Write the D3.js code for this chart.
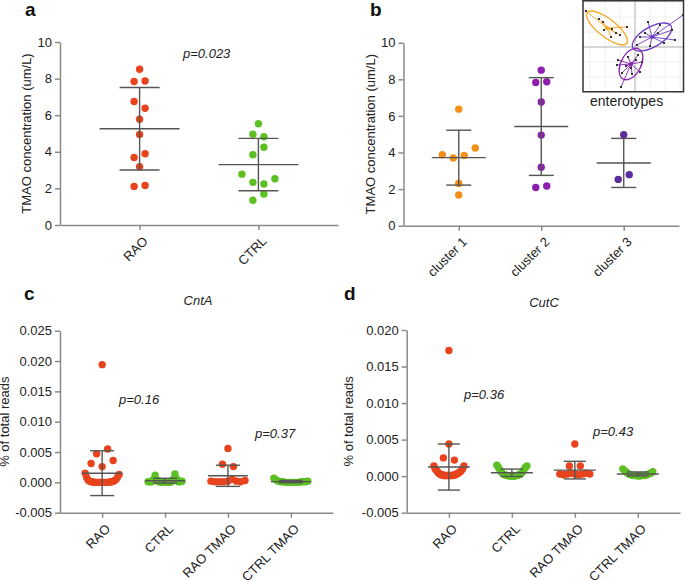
<!DOCTYPE html>
<html><head><meta charset="utf-8">
<script src="https://cdn.jsdelivr.net/npm/d3@7"></script>
<style>
body{margin:0;background:#fff}
svg text{font-family:"Liberation Sans",Arial,Helvetica,sans-serif}
</style>
</head><body>
<svg id="chart" width="685" height="580"></svg>
<script>
// ---------- DATA ----------
// panel a: plasma TMAO
const tmaoGroups = ["RAO", "CTRL"];
const tmaoRAO  = [8.51, 7.84, 7.87, 6.75, 6.38, 5.78, 4.95, 3.69, 3.89, 3.18, 2.11, 2.16];
const tmaoCTRL = [5.53, 4.96, 4.82, 3.84, 4.25, 2.78, 2.33, 2.24, 2.53, 1.35, 1.69];
const tmaoTicks = [0, 2, 4, 6, 8, 10];
const pTmao = "p=0.023";

// panel b: TMAO by enterotype cluster
const clusterNames = ["cluster 1", "cluster 2", "cluster 3"];
const cluster1 = [6.37, 3.88, 3.70, 3.84, 4.25, 2.31, 1.68];
const cluster2 = [8.50, 7.83, 7.87, 6.76, 4.95, 3.19, 2.09, 2.17];
const cluster3 = [4.97, 2.53, 2.79];

// panel b inset: enterotype ordination (arbitrary PC units)
const insetOrangeCenter = [-0.56, 0.38];
const insetOrange = [[-0.98,0.72],[-0.72,0.56],[-0.64,0.50],[-0.46,0.36],[-0.30,0.24],[-0.48,0.20],[-0.16,0.40],[-0.62,0.34],[-0.38,0.28]];
const insetBlueCenter = [0.34, 0.20];
const insetBlue = [[0.96,0.64],[0.74,0.34],[0.50,0.44],[0.26,0.50],[0.10,0.20],[0.04,0.04],[0.30,0.02],[0.58,0.08],[0.80,0.14],[0.46,0.28],[0.20,0.28]];
const insetPurpleCenter = [-0.08, -0.34];
const insetPurple = [[-0.34,-0.26],[-0.36,-0.36],[-0.14,-0.20],[0.06,-0.16],[0.14,-0.30],[0.10,-0.50],[-0.06,-0.54],[-0.26,-0.52],[-0.28,-0.80],[-0.08,-0.42],[-0.18,-0.38],[0.02,-0.26]];
// ellipse: [radius along major, radius along minor, angle deg]
const insetOrangeEllipse = [0.50, 0.18, -38];
const insetBlueEllipse = [0.44, 0.20, 30];
const insetPurpleEllipse = [0.34, 0.20, 62];

// panels c & d: gene abundance
const geneGroups = ["RAO", "CTRL", "RAO TMAO", "CTRL TMAO"];
const cntaRAO = [0.0015,0.0008,0.0004,0.0002,0.0001,0.0001,0,0,0,0,0,0,0,0,0,0,0,0.0001,0.0001,0.0002,0.0003,0.0005,0.0009,0.0013,
                 0.0047,0.0055,0.0031,0.0026,0.0036,0.0194];
const cntaCTRL = [0.0001,0.0001,0.0001,0.0005,0.0012,0.0004,0.0001,0,0,0,0,0,0,0.0001,0.0005,0.0014,0.0006,0.0001,0.0001,0.0002];
const cntaRAOTMAO = [0.0030,0.0026,0.0056,0.0002,0.0001,0.0001,0.0001,0.0002,0.0005,0.0002,0.0001,0.0003];
const cntaCTRLTMAO = [0.0007,0.0004,0.0002,0.0001,0.0001,0,0,0,0,0,0,0,0.0001,0.0001,0.0001,0.0002];
const cntaTicks = [-0.005, 0, 0.005, 0.010, 0.015, 0.020, 0.025];
const pCnta = ["p=0.16", "p=0.37"];

const cutcRAO = [0.0014,0.0010,0.0008,0.0006,0.0004,0.0003,0.0002,0.0002,0.0001,0.0001,0.0001,0.0001,0.0001,0.0001,0.0001,0.0001,0.0001,
                 0.0002,0.0002,0.0003,0.0004,0.0005,0.0006,0.0008,0.0010,0.0014,
                 0.0025,0.0022,0.0044,0.0172];
const cutcCTRL = [0.0015,0.0012,0.0008,0.0005,0.0003,0.0002,0.0001,0.0001,0,0,0,0,0.0001,0.0001,0.0002,0.0003,0.0005,0.0008,0.0012,0.0014];
const cutcRAOTMAO = [0.0014,0.0014,0.0044,0.0003,0.0002,0.0003,0.0004,0.0003,0.0002,0.0003,0.0004,0.0003];
const cutcCTRLTMAO = [0.0010,0.0007,0.0005,0.0003,0.0002,0.0001,0.0001,0.0001,0,0.0001,0.0001,0.0001,0.0002,0.0003,0.0004,0.0006];
const cutcTicks = [-0.005, 0, 0.005, 0.010, 0.015, 0.020];
const pCutc = ["p=0.36", "p=0.43"];

// ---------- STYLE ----------
const RED = "#e8431c", GREEN = "#5cc022", ORANGE = "#f39018", PURPLE = "#8c1fae", VIOLET = "#5c2c9e";
const AXIS = "#8a8a8a", BAR = "#555", TXT = "#222";

const svg = d3.select("#chart");

function layout(values, y, gapPx, spacing, maxSpan) {
  const items = values.map((v, i) => ({v, i, py: y(v), dx: 0}));
  const sorted = items.slice().sort((a, b) => a.py - b.py);
  const groups = [];
  let cur = [sorted[0]];
  for (let k = 1; k < sorted.length; k++) {
    if (sorted[k].py - sorted[k - 1].py < gapPx) cur.push(sorted[k]);
    else { groups.push(cur); cur = [sorted[k]]; }
  }
  groups.push(cur);
  groups.forEach(g => {
    g.sort((a, b) => a.i - b.i);
    const n = g.length;
    const s = n > 1 ? Math.min(spacing, maxSpan / (n - 1)) : 0;
    g.forEach((d, k) => d.dx = (k - (n - 1) / 2) * s);
  });
  return items;
}

function panel(o) {
  const g = svg.append("g");
  const x = d3.scalePoint().domain(o.cats).range([o.left, o.right]).padding(0.67);
  const y = d3.scaleLinear().domain(o.yDomain).range([o.bottom, o.top]);

  // axes
  const ya = g.append("g").attr("transform", `translate(${o.left},0)`)
    .call(d3.axisLeft(y).tickValues(o.ticks).tickFormat(o.fmt).tickSize(5).tickPadding(3).tickSizeOuter(0));
  const xa = g.append("g").attr("transform", `translate(0,${o.bottom})`)
    .call(d3.axisBottom(x).tickSize(5).tickSizeOuter(0).tickFormat(""));
  [ya, xa].forEach(a => {
    a.select(".domain").attr("stroke", AXIS).attr("stroke-width", 1.5);
    a.selectAll(".tick line").attr("stroke", AXIS).attr("stroke-width", 1.5);
    a.selectAll(".tick text").attr("fill", TXT).style("font-size", "13px");
  });
  g.selectAll("text.xl").data(o.cats).join("text").attr("class", "xl")
    .attr("transform", d => `translate(${x(d) + 9},${o.bottom + 17}) rotate(-45)`)
    .attr("text-anchor", "end").attr("fill", TXT).style("font-size", "13px").text(d => d);

  // y label
  g.append("text").attr("transform", `translate(${o.ylx},${(o.top + o.bottom) / 2}) rotate(-90)`)
    .attr("text-anchor", "middle").attr("fill", TXT).style("font-size", "13px").text(o.ylabel);

  // dots
  o.series.forEach((vals, k) => {
    const cx = x(o.cats[k]);
    const items = layout(vals, y, o.gap, 11, o.maxSpan);
    g.append("g").selectAll("circle").data(items).join("circle")
      .attr("cx", d => cx + d.dx).attr("cy", d => d.py).attr("r", 3.7)
      .attr("fill", o.colors[k]);
  });
  // mean +- SD
  o.series.forEach((vals, k) => {
    const cx = x(o.cats[k]);
    const m = d3.mean(vals), s = d3.deviation(vals);
    const eb = g.append("g").attr("stroke", BAR).attr("stroke-width", 1.4);
    eb.append("line").attr("x1", cx).attr("x2", cx).attr("y1", y(m - s)).attr("y2", y(m + s));
    eb.append("line").attr("x1", cx - o.cap).attr("x2", cx + o.cap).attr("y1", y(m + s)).attr("y2", y(m + s));
    eb.append("line").attr("x1", cx - o.cap).attr("x2", cx + o.cap).attr("y1", y(m - s)).attr("y2", y(m - s));
    eb.append("line").attr("x1", cx - o.meanW).attr("x2", cx + o.meanW).attr("y1", y(m)).attr("y2", y(m));
  });
  return {x, y, g};
}

const intFmt = d => d3.format("d")(d);
const decFmt = d => d.toFixed(3);

// panel a
panel({cats: tmaoGroups, series: [tmaoRAO, tmaoCTRL], colors: [RED, GREEN],
  yDomain: [0, 10], ticks: tmaoTicks, fmt: intFmt, left: 60, right: 338, top: 42, bottom: 225,
  gap: 8.5, maxSpan: 34, meanW: 40, cap: 20, ylabel: "TMAO concentration (um/L)", ylx: 31});
// panel b
panel({cats: clusterNames, series: [cluster1, cluster2, cluster3], colors: [ORANGE, PURPLE, VIOLET],
  yDomain: [0, 10], ticks: tmaoTicks, fmt: intFmt, left: 403.5, right: 679, top: 42.7, bottom: 225.7,
  gap: 8.5, maxSpan: 34, meanW: 27, cap: 12.5, ylabel: "TMAO concentration (um/L)", ylx: 375});
// panel c
panel({cats: geneGroups, series: [cntaRAO, cntaCTRL, cntaRAOTMAO, cntaCTRLTMAO], colors: [RED, GREEN, RED, GREEN],
  yDomain: [-0.005, 0.025], ticks: cntaTicks, fmt: decFmt, left: 60, right: 333, top: 330.7, bottom: 512.7,
  gap: 5.8, maxSpan: 34, meanW: 20, cap: 12, ylabel: "% of total reads", ylx: 9});
// panel d
panel({cats: geneGroups, series: [cutcRAO, cutcCTRL, cutcRAOTMAO, cutcCTRLTMAO], colors: [RED, GREEN, RED, GREEN],
  yDomain: [-0.005, 0.020], ticks: cutcTicks, fmt: decFmt, left: 406.7, right: 680, top: 330, bottom: 512.7,
  gap: 5, maxSpan: 30, meanW: 21, cap: 11, ylabel: "% of total reads", ylx: 353});

// panel letters and annotations
const letters = [["a", 25, 16], ["b", 370, 16], ["c", 24, 300], ["d", 344, 300]];
svg.selectAll("text.pl").data(letters).join("text").attr("class", "pl")
  .attr("x", d => d[1]).attr("y", d => d[2]).attr("fill", "#111")
  .style("font-size", "19px").style("font-weight", "bold").text(d => d[0]);

const notes = [[pTmao, 183, 58, false], ["CntA", 198, 305, true], [pCnta[0], 119, 404, false], [pCnta[1], 255, 438, false],
               ["CutC", 544, 307, true], [pCutc[0], 464, 399, false], [pCutc[1], 593, 435.5, false]];
svg.selectAll("text.nt").data(notes).join("text").attr("class", "nt")
  .attr("x", d => d[1]).attr("y", d => d[2]).attr("text-anchor", d => d[3] ? "middle" : "start")
  .attr("fill", TXT).style("font-size", "13px").style("font-style", "italic").text(d => d[0]);

// ---------- inset ----------
const ix = d3.scaleLinear().domain([-1.04, 0.96]).range([583, 683]);
const iy = d3.scaleLinear().domain([-0.9, 0.94]).range([92, 0]);
const inset = svg.append("g");
svg.append("clipPath").attr("id", "ic").append("rect").attr("x", 583).attr("y", 0.75).attr("width", 100.5).attr("height", 91);
inset.append("rect").attr("x", 583).attr("y", 0.75).attr("width", 100.5).attr("height", 91).attr("fill", "#fff");
const ig = inset.append("g").attr("clip-path", "url(#ic)");
const gridV = d3.range(-1.0, 1.0, 0.3).map(v => +v.toFixed(2));
ig.selectAll("line.gv").data(d3.range(-0.9, 1.0, 0.3)).join("line").attr("x1", d => ix(d)).attr("x2", d => ix(d))
  .attr("y1", 0).attr("y2", 92).attr("stroke", "#ececec").attr("stroke-width", 0.8);
ig.selectAll("line.gh").data(d3.range(-0.9, 1.0, 0.3)).join("line").attr("y1", d => iy(d)).attr("y2", d => iy(d))
  .attr("x1", 583).attr("x2", 684).attr("stroke", "#ececec").attr("stroke-width", 0.8);
ig.append("line").attr("x1", ix(0)).attr("x2", ix(0)).attr("y1", 0).attr("y2", 92).attr("stroke", "#b5b5b5").attr("stroke-width", 1);
ig.append("line").attr("y1", iy(0)).attr("y2", iy(0)).attr("x1", 583).attr("x2", 684).attr("stroke", "#b5b5b5").attr("stroke-width", 1);

function cluster(center, pts, ell, color) {
  const c = ig.append("g");
  c.selectAll("line").data(pts).join("line")
    .attr("x1", ix(center[0])).attr("y1", iy(center[1])).attr("x2", d => ix(d[0])).attr("y2", d => iy(d[1]))
    .attr("stroke", color).attr("stroke-width", 0.9);
  const rx = ix(ell[0]) - ix(0), ry = iy(0) - iy(ell[1]);
  c.append("ellipse").attr("cx", 0).attr("cy", 0).attr("rx", rx).attr("ry", ry)
    .attr("transform", `translate(${ix(center[0])},${iy(center[1])}) rotate(${-ell[2]})`)
    .attr("fill", "none").attr("stroke", color).attr("stroke-width", 1.3);
  c.selectAll("rect").data(pts).join("rect")
    .attr("x", d => ix(d[0]) - 1).attr("y", d => iy(d[1]) - 1).attr("width", 2).attr("height", 2).attr("fill", "#333");
  c.append("circle").attr("cx", ix(center[0])).attr("cy", iy(center[1])).attr("r", 2).attr("fill", color);
}
cluster(insetOrangeCenter, insetOrange, insetOrangeEllipse, "#f5a623");
cluster(insetBlueCenter, insetBlue, insetBlueEllipse, "#6a3cc0");
cluster(insetPurpleCenter, insetPurple, insetPurpleEllipse, "#8a24b0");
inset.append("rect").attr("x", 583).attr("y", 0.75).attr("width", 100.5).attr("height", 91)
  .attr("fill", "none").attr("stroke", "#333").attr("stroke-width", 1.5);
svg.append("text").attr("x", 590).attr("y", 106).attr("fill", TXT).style("font-size", "14px").text("enterotypes");
</script>
</body></html>
